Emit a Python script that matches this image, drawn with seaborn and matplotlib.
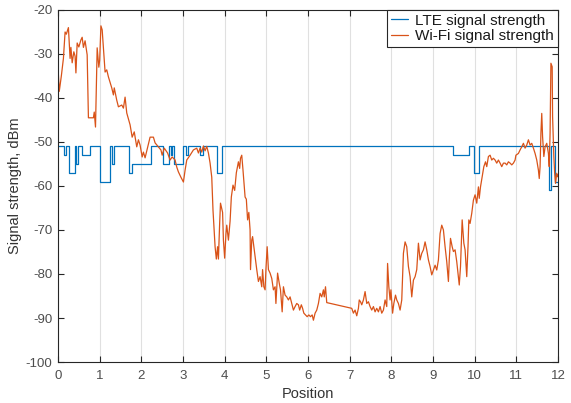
import matplotlib
matplotlib.use("Agg")
import matplotlib.pyplot as plt
import seaborn as sns
import pandas as pd

# ---------------- data ----------------
lte_pos = [0.00, 0.15, 0.20, 0.27, 0.40, 0.43, 0.47, 0.58, 0.77, 1.01, 1.25, 1.30,
           1.34, 1.71, 1.77, 2.24, 2.52, 2.66, 2.70, 2.74, 2.79, 3.00, 3.07, 3.12,
           3.41, 3.47, 3.81, 3.94, 9.47, 9.86, 9.98, 10.10, 11.78, 11.83, 11.92, 12.00]
lte_dbm = [-51, -53, -51, -57, -51, -55, -51, -53, -51, -59, -51, -55,
           -51, -57, -55, -51, -55, -51, -53, -51, -55, -51, -53, -51,
           -53, -51, -57, -51, -53, -51, -57, -51, -61, -51, -59, -59]

wifi_pos = [0.00, 0.03, 0.08, 0.13, 0.17, 0.20, 0.25, 0.29, 0.31, 0.34, 0.38, 0.41,
            0.43, 0.46, 0.50, 0.55, 0.58, 0.61, 0.65, 0.70, 0.73, 0.85, 0.87, 0.90,
            0.94, 0.98, 1.00, 1.03, 1.06, 1.13, 1.17, 1.21, 1.29, 1.33, 1.35, 1.41,
            1.45, 1.53, 1.57, 1.61, 1.65, 1.73, 1.78, 1.83, 1.89, 1.93, 1.97, 2.02,
            2.05, 2.09, 2.21, 2.29, 2.33, 2.41, 2.47, 2.50, 2.55, 2.63, 2.69, 2.74,
            2.81, 2.85, 2.89, 2.95, 3.01, 3.05, 3.09, 3.17, 3.25, 3.33, 3.37, 3.41,
            3.45, 3.49, 3.53, 3.57, 3.61, 3.65, 3.69, 3.72, 3.77, 3.80, 3.83, 3.85,
            3.88, 3.90, 3.95, 3.97, 4.00, 4.03, 4.05, 4.09, 4.13, 4.16, 4.20, 4.24,
            4.28, 4.33, 4.36, 4.38, 4.41, 4.44, 4.49, 4.52, 4.55, 4.58, 4.61, 4.62,
            4.65, 4.67, 4.70, 4.73, 4.77, 4.81, 4.85, 4.89, 4.91, 4.94, 4.97, 4.99,
            5.02, 5.05, 5.09, 5.13, 5.17, 5.21, 5.23, 5.27, 5.31, 5.34, 5.38, 5.41,
            5.45, 5.49, 5.53, 5.57, 5.61, 5.65, 5.69, 5.73, 5.77, 5.80, 5.84, 5.87,
            5.90, 5.94, 5.98, 6.02, 6.06, 6.10, 6.13, 6.17, 6.21, 6.25, 6.29, 6.33,
            6.37, 6.39, 6.42, 6.45, 7.05, 7.09, 7.13, 7.17, 7.21, 7.23, 7.26, 7.29,
            7.33, 7.37, 7.41, 7.45, 7.49, 7.53, 7.57, 7.61, 7.65, 7.69, 7.73, 7.77,
            7.81, 7.85, 7.89, 7.91, 7.94, 7.97, 7.99, 8.03, 8.06, 8.10, 8.13, 8.17,
            8.21, 8.25, 8.29, 8.33, 8.37, 8.41, 8.45, 8.49, 8.53, 8.57, 8.61, 8.65,
            8.69, 8.73, 8.77, 8.81, 8.85, 8.89, 8.93, 8.97, 9.01, 9.05, 9.09, 9.13,
            9.17, 9.21, 9.25, 9.29, 9.33, 9.37, 9.39, 9.42, 9.46, 9.49, 9.53, 9.57,
            9.61, 9.63, 9.66, 9.70, 9.74, 9.77, 9.81, 9.84, 9.86, 9.89, 9.93, 9.97,
            10.01, 10.05, 10.09, 10.11, 10.14, 10.18, 10.22, 10.26, 10.29, 10.33, 10.37, 10.41,
            10.45, 10.49, 10.53, 10.57, 10.61, 10.65, 10.69, 10.73, 10.77, 10.81, 10.85, 10.89,
            10.93, 10.97, 10.99, 11.05, 11.09, 11.13, 11.17, 11.21, 11.25, 11.29, 11.33, 11.37,
            11.41, 11.45, 11.49, 11.53, 11.55, 11.57, 11.59, 11.61, 11.63, 11.66, 11.69, 11.73,
            11.77, 11.79, 11.81, 11.83, 11.86, 11.87, 11.90, 11.92, 11.94, 11.97, 11.99, 12.00]
wifi_dbm = [-33.0, -38.5, -35.0, -31.0, -25.0, -25.5, -24.0, -31.0, -28.5, -32.0, -29.5, -30.5,
            -34.3, -27.5, -28.4, -26.8, -26.2, -28.5, -27.0, -30.2, -44.5, -44.5, -43.2, -46.6,
            -28.6, -33.0, -31.4, -23.6, -24.5, -34.1, -33.6, -35.2, -37.7, -39.3, -37.7, -40.5,
            -42.0, -41.6, -42.3, -39.8, -43.4, -46.1, -48.9, -47.7, -51.1, -49.5, -50.7, -53.4,
            -52.3, -53.6, -48.9, -48.9, -50.2, -51.1, -51.8, -53.0, -51.4, -52.5, -54.1, -53.4,
            -54.1, -55.7, -56.8, -58.0, -59.1, -56.4, -54.1, -53.0, -51.8, -51.4, -52.5, -51.4,
            -52.3, -50.9, -52.0, -51.0, -52.5, -54.8, -58.0, -65.5, -73.8, -76.6, -73.8, -76.6,
            -68.4, -63.9, -66.0, -72.3, -76.4, -71.0, -68.9, -72.3, -68.0, -62.5, -59.8, -61.0,
            -57.0, -54.5, -56.0, -53.7, -53.0, -56.4, -62.5, -63.0, -67.7, -66.0, -70.0, -79.0,
            -72.3, -71.5, -73.8, -76.1, -79.0, -81.7, -80.6, -82.9, -79.0, -82.9, -83.6, -79.0,
            -73.8, -79.0, -79.8, -81.0, -83.6, -82.9, -86.7, -79.8, -82.1, -83.6, -88.6, -82.9,
            -84.8, -85.2, -85.9, -85.2, -86.7, -88.2, -87.4, -86.7, -87.0, -88.2, -87.0, -87.8,
            -88.9, -89.3, -89.7, -89.3, -89.7, -89.3, -90.5, -88.9, -88.2, -86.7, -84.4, -85.2,
            -83.6, -85.2, -82.9, -86.5, -87.8, -88.9, -88.2, -89.5, -87.8, -85.9, -86.3, -87.0,
            -85.9, -84.0, -86.7, -86.3, -87.4, -88.2, -87.4, -88.6, -87.8, -88.6, -87.4, -88.9,
            -88.2, -85.9, -87.4, -77.6, -82.9, -85.9, -83.6, -88.9, -86.7, -84.8, -85.9, -86.7,
            -88.2, -85.9, -75.3, -72.7, -73.8, -78.3, -80.6, -85.2, -81.4, -80.6, -79.0, -73.0,
            -76.8, -75.3, -74.5, -72.7, -74.5, -76.8, -78.3, -80.2, -79.1, -78.0, -79.1, -76.8,
            -70.8, -68.9, -70.0, -73.8, -77.2, -81.7, -76.8, -71.9, -73.8, -74.9, -74.5, -77.2,
            -80.6, -82.5, -78.3, -67.7, -73.0, -74.5, -80.6, -73.8, -67.7, -68.5, -66.2, -63.2,
            -62.0, -63.9, -60.2, -62.8, -60.2, -57.9, -55.6, -54.5, -55.6, -53.3, -53.0, -54.1,
            -53.7, -54.1, -54.8, -54.1, -54.8, -55.6, -54.8, -54.8, -55.2, -54.5, -54.8, -55.2,
            -54.8, -54.1, -53.0, -52.6, -51.8, -51.1, -50.3, -51.4, -50.7, -49.5, -50.7, -50.3,
            -51.4, -52.6, -54.1, -56.4, -58.3, -55.6, -48.0, -43.5, -48.8, -53.3, -51.1, -50.3,
            -52.6, -55.6, -48.0, -32.1, -32.9, -44.2, -53.3, -57.1, -59.4, -57.1, -57.9, -57.5]

x_ticks = list(range(0, 13))
y_ticks = list(range(-100, -19, 10))
series_names = ["LTE signal strength", "Wi-Fi signal strength"]
x_label = "Position"
y_label = "Signal strength, dBm"

# ---------------- plot ----------------
sns.set_theme(style="white")
plt.rcParams["font.family"] = ["Liberation Sans", "DejaVu Sans"]

lte_df = pd.DataFrame({"pos": lte_pos, "dbm": lte_dbm})
wifi_df = pd.DataFrame({"pos": wifi_pos, "dbm": wifi_dbm})

fig = plt.figure(figsize=(5.71, 4.03), dpi=100)
ax = fig.add_axes([58 / 571, 1 - 362 / 403, 500 / 571, 352 / 403])

blue = "#0072BD"
orange = "#D95319"
sns.lineplot(data=lte_df, x="pos", y="dbm", ax=ax, color=blue, linewidth=0.9,
             drawstyle="steps-post", estimator=None, sort=False, label=series_names[0])
sns.lineplot(data=wifi_df, x="pos", y="dbm", ax=ax, color=orange, linewidth=0.9,
             estimator=None, sort=False, label=series_names[1])

ax.set_xlim(0, 12)
ax.set_ylim(-100, -20)
ax.set_xticks(x_ticks)
ax.set_yticks(y_ticks)
ax.set_xticklabels([str(t) for t in x_ticks])
ax.set_yticklabels([str(t) for t in y_ticks])

ax.grid(axis="x", color="#e0e0e0", linewidth=0.8)
ax.grid(axis="y", visible=False)
ax.set_axisbelow(True)

edge = "#262626"
for s in ax.spines.values():
    s.set_color(edge)
    s.set_linewidth(0.8)
    s.set_visible(True)

ax.tick_params(axis="both", which="both", direction="in", length=4, width=0.8,
               colors=edge, labelcolor="#4d4d4d", labelsize=9.5,
               top=True, right=True, bottom=True, left=True)
ax.tick_params(axis="x", pad=6)
ax.tick_params(axis="y", pad=4)

ax.set_xlabel(x_label, fontsize=10.5, color="#333333", labelpad=3)
ax.set_ylabel(y_label, fontsize=10.5, color="#333333", labelpad=3)

leg = ax.legend(loc="upper right", bbox_to_anchor=(1.0, 1.0), frameon=True, fancybox=False,
                framealpha=1.0, edgecolor=edge, fontsize=11, borderaxespad=0.0,
                handlelength=1.1, handletextpad=0.5, borderpad=0.25, labelspacing=0.1)
leg.get_frame().set_linewidth(0.8)
for t in leg.get_texts():
    t.set_color("#1a1a1a")

fig.savefig("out.png", dpi=100)
